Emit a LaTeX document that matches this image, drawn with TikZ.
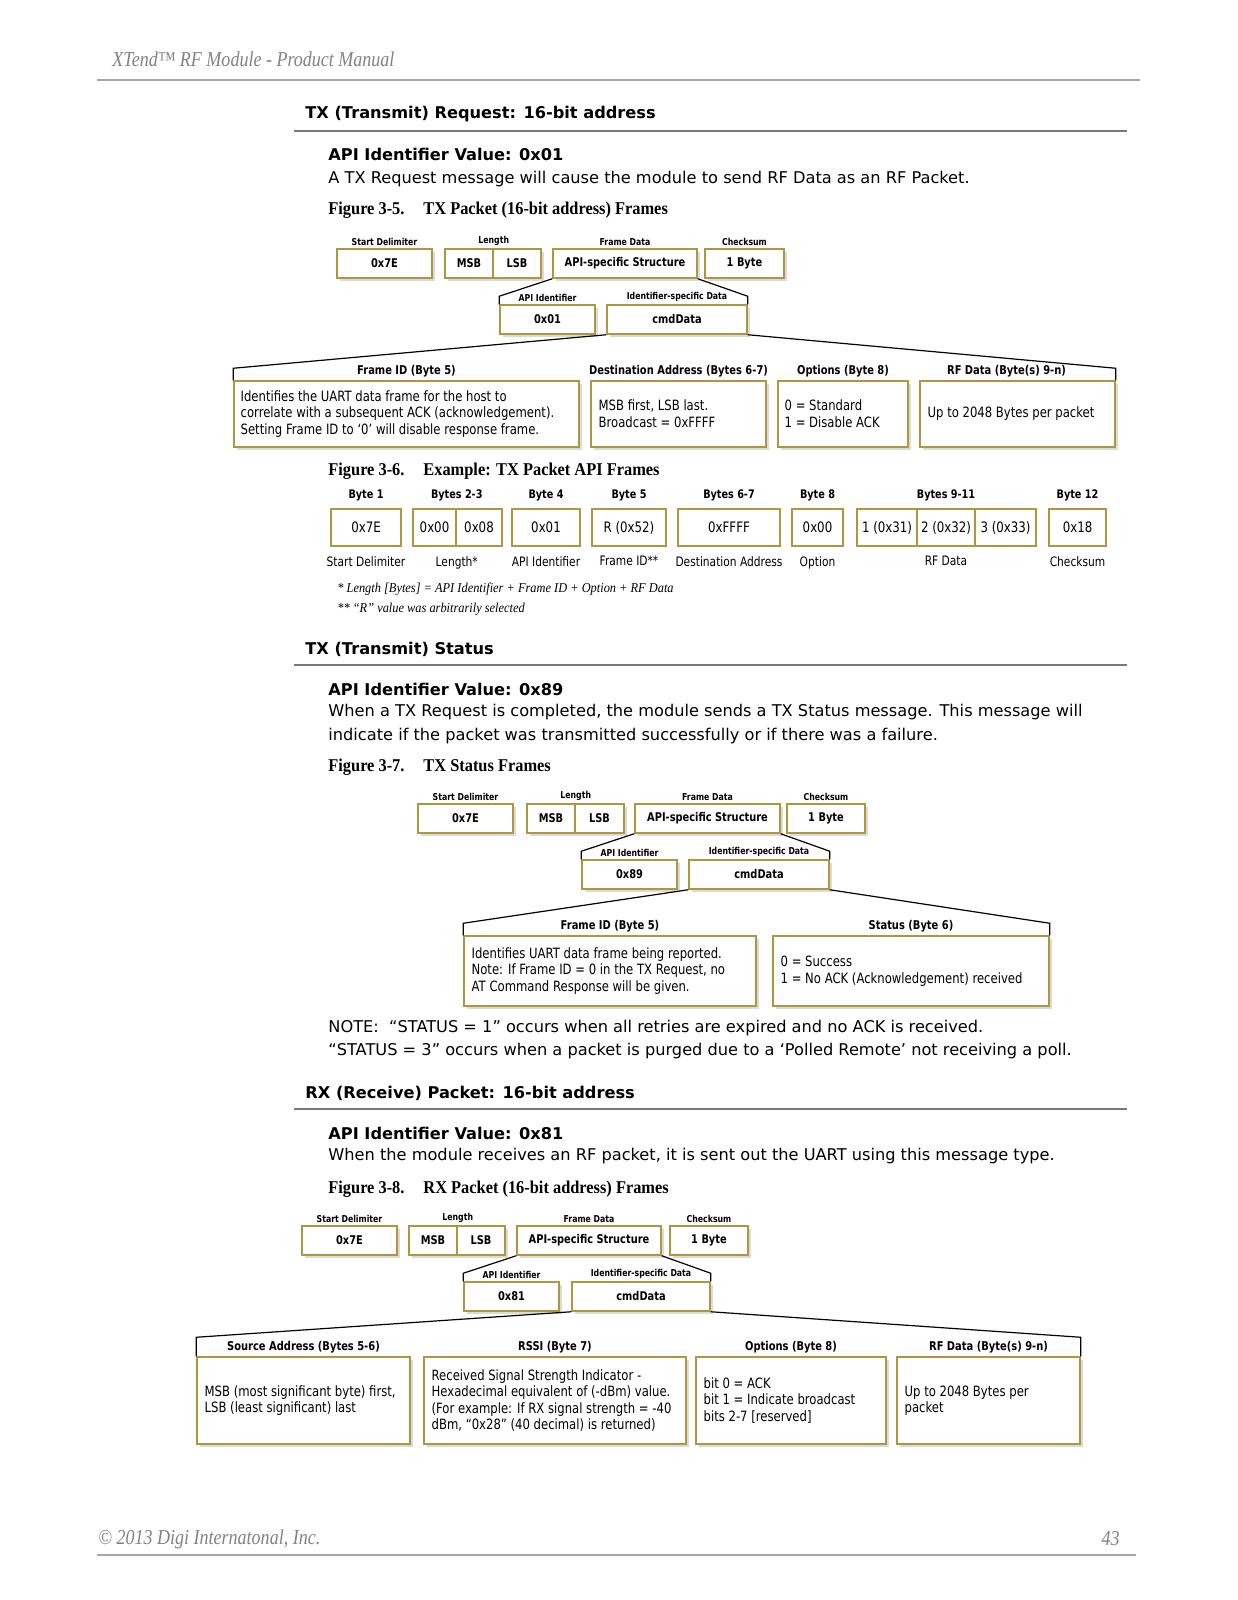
\documentclass[tikz,border=0pt]{standalone}
\usepackage{fontspec}
\setmainfont{DejaVu Sans}
\newfontfamily\condsans{DejaVu Sans}[FakeStretch=0.82]
\newfontfamily\serifc{Liberation Serif}[FakeStretch=0.91]
\newfontfamily\pageserif{Liberation Serif}[FakeStretch=0.85]
\usetikzlibrary{shadows,calc}

\definecolor{boxgold}{RGB}{176,150,64}
\definecolor{rulegray}{RGB}{120,120,120}
\definecolor{pagegray}{RGB}{130,130,130}

\tikzset{
  sz/.style 2 args={minimum width=#1*0.5pt, minimum height=#2*0.5pt},
  box/.style={draw=boxgold, line width=0.75pt, fill=white, inner sep=0pt,
    drop shadow={shadow xshift=1.5pt, shadow yshift=-1.5pt, fill=black!14, opacity=1},
    font=\condsans\fontsize{6}{7}\selectfont\bfseries},
  ebox/.style={draw=boxgold, line width=0.75pt, fill=white, inner sep=0pt,
    font=\condsans\fontsize{7.2}{8}\selectfont},
  toplab/.style={font=\condsans\fontsize{4.75}{5.5}\selectfont\bfseries, inner sep=1.3pt},
  sublab/.style={font=\condsans\fontsize{6.05}{7}\selectfont\bfseries, inner sep=1.2pt},
  ehdr/.style={font=\condsans\fontsize{5.9}{7}\selectfont\bfseries, inner sep=1.2pt, yshift=2pt},
  desc/.style={font=\condsans\fontsize{7.1}{8.3}\selectfont, align=left, anchor=west, inner sep=0pt},
  elab/.style={font=\condsans\fontsize{6.5}{7.5}\selectfont, inner sep=2pt, yshift=-2.5pt},
  brk/.style={line width=0.6pt, black},
  heading/.style={font=\fontsize{8.1}{9.5}\selectfont\bfseries, anchor=west, inner sep=0pt},
  body/.style={font=\fontsize{8.1}{11.8}\selectfont, anchor=west, inner sep=0pt, align=left},
  figcap/.style={font=\serifc\fontsize{9}{10.5}\selectfont\bfseries, anchor=west, inner sep=0pt},
  pagetxt/.style={font=\pageserif\fontsize{10.6}{12}\selectfont\itshape, text=pagegray, inner sep=0pt},
  note/.style={font=\serifc\fontsize{6.8}{8}\selectfont\itshape, anchor=west, inner sep=0pt},
  secrule/.style={line width=1pt, rulegray},
}

\begin{document}
\begin{tikzpicture}[x=0.5pt, y=-0.5pt]
\useasboundingbox[fill=white] (0,0) rectangle (1237,1600);

% page header and footer
\node[pagetxt, anchor=west] (pghead) at (112,59) {XTend\texttrademark{} RF Module - Product Manual};
\draw[line width=0.8pt, black!35] (97,80) coordinate (hl) -- (1140,80) coordinate (hr);
\node[pagetxt, anchor=west] (pgfoot) at (98,1539) {\textcopyright{} 2013 Digi Internatonal, Inc.};
\node[pagetxt, anchor=east] (pgnum) at (1120,1539) {43};
\draw[line width=0.8pt, black!35] (97,1555) coordinate (fl) -- (1136,1555) coordinate (fr);

% ---------- TX request ----------
\node[heading] (h1) at (305,114) {TX (Transmit) Request: 16-bit address};
\draw[secrule] (294,131) coordinate (r1l) -- (1127,131) coordinate (r1r);
\node[heading] (api1) at (328,154) {API Identifier Value: 0x01};
\node[body] (txt1) at (328,179) {A TX Request message will cause the module to send RF Data as an RF Packet.};
\node[figcap] (cap1) at (328,210) {Figure 3-5.\hspace{1.05em}TX Packet (16-bit address) Frames};

\node[box, sz={95}{29}, label={[toplab]above:Start Delimiter}] (sd1) at (384.5,263.5) {0x7E};
\node[box, sz={48}{29}] (msb1) at (469,263.5) {MSB};
\node[box, sz={48}{29}] (lsb1) at (517,263.5) {LSB};
\node[toplab, above] (len1) at (msb1.north east) {Length};
\node[box, sz={144}{29}, label={[toplab]above:Frame Data}] (fd1) at (625,263.5) {API-specific Structure};
\node[box, sz={79}{29}, label={[toplab]above:Checksum}] (ck1) at (744.5,263.5) {1 Byte};

\node[box, sz={95}{29}, label={[toplab]above:API Identifier}] (id1) at (547.5,319.5) {0x01};
\node[box, sz={140}{29}, label={[toplab]above:Identifier-specific Data}] (cmd1) at (677,319.5) {cmdData};
\draw[brk] (fd1.south west) -- ($(id1.north west)+(0,-8)$) -- (id1.north west);
\draw[brk] (fd1.south east) -- ($(cmd1.north east)+(0,-8)$) -- (cmd1.north east);

\node[box, sz={345}{66}, label={[sublab]above:Frame ID (Byte 5)}] (fid1) at (406.5,414) {};
\node[box, sz={175}{66}, label={[sublab]above:Destination Address (Bytes 6-7)}] (dst1) at (678.5,414) {};
\node[box, sz={130}{66}, label={[sublab]above:Options (Byte 8)}] (opt1) at (843,414) {};
\node[box, sz={195}{66}, label={[sublab, xshift=-5.5pt]above:RF Data (Byte(s) 9-n)}] (rfd1) at (1017.5,414) {};
\draw[brk] (cmd1.south west) -- ($(fid1.north west)+(0,-12)$) -- (fid1.north west);
\draw[brk] (cmd1.south east) -- ($(rfd1.north east)+(0,-12)$) -- (rfd1.north east);
\node[desc] (fid1t) at ([xshift=3.5pt]fid1.west) {Identifies the UART data frame for the host to\\correlate with a subsequent ACK (acknowledgement).\\Setting Frame ID to ‘0’ will disable response frame.};
\node[desc] (dst1t) at ([xshift=4pt]dst1.west) {MSB first, LSB last.\\Broadcast = 0xFFFF};
\node[desc] (opt1t) at ([xshift=3.5pt]opt1.west) {0 = Standard\\1 = Disable ACK};
\node[desc] (rfd1t) at ([xshift=4pt]rfd1.west) {Up to 2048 Bytes per packet};

% ---------- example frame ----------
\node[figcap] (cap2) at (328,471) {Figure 3-6.\hspace{1.05em}Example: TX Packet API Frames};
\node[ebox, sz={70}{37}, label={[ehdr]above:Byte 1}, label={[elab]below:Start Delimiter}] (e1) at (366,527.5) {0x7E};
\node[ebox, sz={43}{37}] (e2) at (434.5,527.5) {0x00};
\node[ebox, sz={46}{37}] (e3) at (479,527.5) {0x08};
\node[ehdr, above] (e23h) at (e2.north east) {Bytes 2-3};
\node[elab, below] (e23l) at (e2.south east) {Length*};
\node[ebox, sz={68}{37}, label={[ehdr]above:Byte 4}, label={[elab]below:API Identifier}] (e4) at (546,527.5) {0x01};
\node[ebox, sz={74}{37}, label={[ehdr]above:Byte 5}, label={[elab]below:Frame ID**}] (e5) at (629,527.5) {R (0x52)};
\node[ebox, sz={102}{37}, label={[ehdr]above:Bytes 6-7}, label={[elab]below:Destination Address}] (e67) at (729,527.5) {0xFFFF};
\node[ebox, sz={51}{37}, label={[ehdr]above:Byte 8}, label={[elab]below:Option}] (e8) at (817.5,527.5) {0x00};
\node[ebox, sz={60}{37}] (e9) at (887,527.5) {1 (0x31)};
\node[ebox, sz={58}{37}] (e10) at (946,527.5) {2 (0x32)};
\node[ebox, sz={61}{37}] (e11) at (1005.5,527.5) {3 (0x33)};
\node[ehdr, above] (e911h) at (e10.north) {Bytes 9-11};
\node[elab, below] (e911l) at (e10.south) {RF Data};
\node[ebox, sz={57}{37}, label={[ehdr]above:Byte 12}, label={[elab]below:Checksum}] (e12) at (1077.5,527.5) {0x18};
\node[note] (fn1) at (337,589) {* Length [Bytes] = API Identifier + Frame ID + Option + RF Data};
\node[note] (fn2) at (337,609) {** “R” value was arbitrarily selected};

% ---------- TX status ----------
\node[heading] (h2) at (305,649) {TX (Transmit) Status};
\draw[secrule] (294,665) coordinate (r2l) -- (1127,665) coordinate (r2r);
\node[heading] (api2) at (328,689) {API Identifier Value: 0x89};
\node[body] (txt2) at (328,724) {When a TX Request is completed, the module sends a TX Status message. This message will\\indicate if the packet was transmitted successfully or if there was a failure.};
\node[figcap] (cap3) at (328,767) {Figure 3-7.\hspace{1.05em}TX Status Frames};

\node[box, sz={95}{29}, label={[toplab]above:Start Delimiter}] (sd2) at (465.5,818.5) {0x7E};
\node[box, sz={48}{29}] (msb2) at (551,818.5) {MSB};
\node[box, sz={49}{29}] (lsb2) at (599.5,818.5) {LSB};
\node[toplab, above] (len2) at (msb2.north east) {Length};
\node[box, sz={145}{29}, label={[toplab]above:Frame Data}] (fd2) at (707.5,818.5) {API-specific Structure};
\node[box, sz={78}{29}, label={[toplab]above:Checksum}] (ck2) at (826,818.5) {1 Byte};

\node[box, sz={95}{29}, label={[toplab]above:API Identifier}] (id2) at (629.5,874.5) {0x89};
\node[box, sz={140}{29}, label={[toplab]above:Identifier-specific Data}] (cmd2) at (759,874.5) {cmdData};
\draw[brk] (fd2.south west) -- ($(id2.north west)+(0,-8)$) -- (id2.north west);
\draw[brk] (fd2.south east) -- ($(cmd2.north east)+(0,-8)$) -- (cmd2.north east);

\node[box, sz={292}{70}, label={[sublab]above:Frame ID (Byte 5)}] (fid2) at (610,971) {};
\node[box, sz={276}{70}, label={[sublab]above:Status (Byte 6)}] (sts2) at (911,971) {};
\draw[brk] (cmd2.south west) -- ($(fid2.north west)+(0,-12)$) -- (fid2.north west);
\draw[brk] (cmd2.south east) -- ($(sts2.north east)+(0,-12)$) -- (sts2.north east);
\node[desc] (fid2t) at ([xshift=4pt]fid2.west) {Identifies UART data frame being reported.\\Note: If Frame ID = 0 in the TX Request, no\\AT Command Response will be given.};
\node[desc] (sts2t) at ([xshift=4pt]sts2.west) {0 = Success\\1 = No ACK (Acknowledgement) received};

\node[body] (note) at (328,1039.5) {NOTE:\ \ “STATUS = 1” occurs when all retries are expired and no ACK is received.\\“STATUS = 3” occurs when a packet is purged due to a ‘Polled Remote’ not receiving a poll.};

% ---------- RX packet ----------
\node[heading] (h3) at (305,1093) {RX (Receive) Packet: 16-bit address};
\draw[secrule] (294,1109) coordinate (r3l) -- (1127,1109) coordinate (r3r);
\node[heading] (api3) at (328,1133) {API Identifier Value: 0x81};
\node[body] (txt3) at (328,1156) {When the module receives an RF packet, it is sent out the UART using this message type.};
\node[figcap] (cap4) at (328,1189) {Figure 3-8.\hspace{1.05em}RX Packet (16-bit address) Frames};

\node[box, sz={95}{29}, label={[toplab]above:Start Delimiter}] (sd3) at (349.5,1240.5) {0x7E};
\node[box, sz={48}{29}] (msb3) at (433,1240.5) {MSB};
\node[box, sz={48}{29}] (lsb3) at (481,1240.5) {LSB};
\node[toplab, above] (len3) at (msb3.north east) {Length};
\node[box, sz={144}{29}, label={[toplab]above:Frame Data}] (fd3) at (589,1240.5) {API-specific Structure};
\node[box, sz={78}{29}, label={[toplab]above:Checksum}] (ck3) at (709,1240.5) {1 Byte};

\node[box, sz={95}{29}, label={[toplab]above:API Identifier}] (id3) at (511.5,1296.5) {0x81};
\node[box, sz={138}{29}, label={[toplab]above:Identifier-specific Data}] (cmd3) at (641,1296.5) {cmdData};
\draw[brk] (fd3.south west) -- ($(id3.north west)+(0,-8)$) -- (id3.north west);
\draw[brk] (fd3.south east) -- ($(cmd3.north east)+(0,-8)$) -- (cmd3.north east);

\node[box, sz={213}{87}, label={[sublab]above:Source Address (Bytes 5-6)}] (src3) at (303.5,1400.5) {};
\node[box, sz={262}{87}, label={[sublab]above:RSSI (Byte 7)}] (rssi3) at (555,1400.5) {};
\node[box, sz={190}{87}, label={[sublab]above:Options (Byte 8)}] (opt3) at (791,1400.5) {};
\node[box, sz={183}{87}, label={[sublab]above:RF Data (Byte(s) 9-n)}] (rfd3) at (988.5,1400.5) {};
\draw[brk] (cmd3.south west) -- ($(src3.north west)+(0,-19)$) -- (src3.north west);
\draw[brk] (cmd3.south east) -- ($(rfd3.north east)+(0,-19)$) -- (rfd3.north east);
\node[desc] (src3t) at ([xshift=4pt]src3.west) {MSB (most significant byte) first,\\LSB (least significant) last};
\node[desc] (rssi3t) at ([xshift=4pt]rssi3.west) {Received Signal Strength Indicator -\\Hexadecimal equivalent of (-dBm) value.\\(For example: If RX signal strength = -40\\dBm, “0x28” (40 decimal) is returned)};
\node[desc] (opt3t) at ([xshift=4pt]opt3.west) {bit 0 = ACK\\bit 1 = Indicate broadcast\\bits 2-7 [reserved]};
\node[desc] (rfd3t) at ([xshift=4pt]rfd3.west) {Up to 2048 Bytes per\\packet};
\end{tikzpicture}
\end{document}
